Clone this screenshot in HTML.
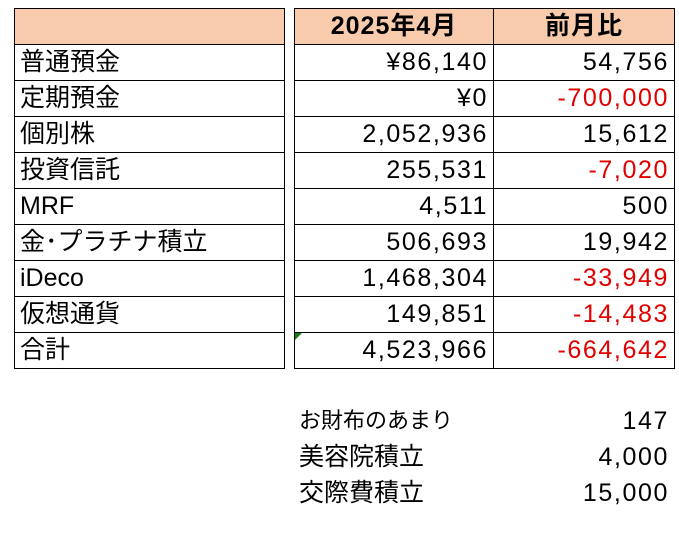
<!DOCTYPE html>
<html><head><meta charset="utf-8"><style>
body{margin:0;width:679px;height:534px;background:#fff;position:relative;overflow:hidden;font-family:"Liberation Sans","Noto Sans CJK JP",sans-serif;font-size:25px;color:#000}
table{position:absolute;border-collapse:collapse;top:8px}
td{border:1.5px solid #000;height:35px;padding:0 5px;line-height:35px;white-space:nowrap}
.h td{background:#F8CBAD;font-weight:bold;text-align:center;letter-spacing:1px}
.r{text-align:right;letter-spacing:1.6px}
.n{color:#e00000}
.t{position:absolute;line-height:36px}
.v{letter-spacing:1.6px}
</style></head><body>
<table style="left:14px;width:271px">
<tr class="h"><td>&nbsp;</td></tr>
<tr><td>普通預金</td></tr><tr><td>定期預金</td></tr><tr><td>個別株</td></tr><tr><td>投資信託</td></tr><tr><td>MRF</td></tr><tr><td>金･プラチナ積立</td></tr><tr><td>iDeco</td></tr><tr><td>仮想通貨</td></tr><tr><td>合計</td></tr>
</table>
<table style="left:294px;width:381px">
<tr class="h"><td style="width:188px">2025年4月</td><td>前月比</td></tr>
<tr><td class="r">¥86,140</td><td class="r">54,756</td></tr>
<tr><td class="r">¥0</td><td class="r n">-700,000</td></tr>
<tr><td class="r">2,052,936</td><td class="r">15,612</td></tr>
<tr><td class="r">255,531</td><td class="r n">-7,020</td></tr>
<tr><td class="r">4,511</td><td class="r">500</td></tr>
<tr><td class="r">506,693</td><td class="r">19,942</td></tr>
<tr><td class="r">1,468,304</td><td class="r n">-33,949</td></tr>
<tr><td class="r">149,851</td><td class="r n">-14,483</td></tr>
<tr><td class="r" style="position:relative"><span style="position:absolute;left:0;top:0;width:0;height:0;border-top:7px solid #1a7a1a;border-right:7px solid transparent"></span>4,523,966</td><td class="r n">-664,642</td></tr>
</table>
<div class="t" style="left:299px;top:403px;font-size:22px">お財布のあまり</div>
<div class="t" style="left:299px;top:439px">美容院積立</div>
<div class="t" style="left:299px;top:475px">交際費積立</div>
<div class="t v" style="right:10px;top:403px">147</div>
<div class="t v" style="right:10px;top:439px">4,000</div>
<div class="t v" style="right:10px;top:475px">15,000</div>
</body></html>
